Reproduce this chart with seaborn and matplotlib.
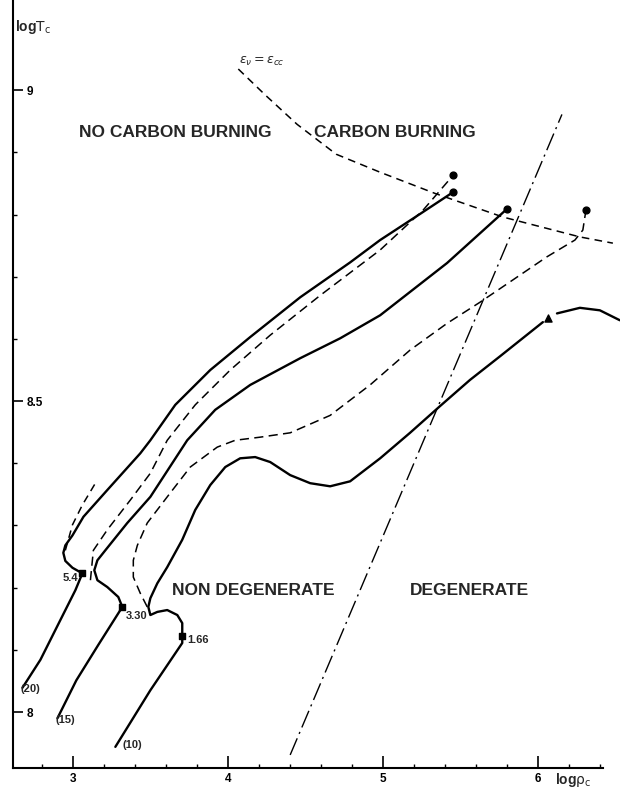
import numpy as np
import pandas as pd
import seaborn as sns
import matplotlib.pyplot as plt

# ---- data (log rho_c, log T_c) ----

# (20) track, solid, through the 5.4 point
trk20_rho = [2.671, 2.787, 2.916, 3.013, 3.058, 2.994, 2.948, 2.935, 2.948, 2.994,
             3.065, 3.219, 3.432, 3.497, 3.658, 3.884, 4.142, 4.465, 4.787, 4.981,
             5.239, 5.452]
trk20_T = [8.039, 8.084, 8.148, 8.196, 8.223, 8.232, 8.243, 8.256, 8.268, 8.284,
           8.314, 8.357, 8.416, 8.437, 8.494, 8.550, 8.603, 8.667, 8.723, 8.759,
           8.801, 8.836]

# short dashed stub left of the (20) loop
stub_rho = [2.948, 2.994, 3.058, 3.142]
stub_T = [8.260, 8.301, 8.333, 8.368]

# dashed track between (20) and (15)
dash1_rho = [3.110, 3.129, 3.219, 3.368, 3.497, 3.606, 3.787, 4.013, 4.271, 4.594,
             4.981, 5.258, 5.452]
dash1_T = [8.212, 8.260, 8.293, 8.341, 8.384, 8.437, 8.494, 8.550, 8.606, 8.670,
           8.743, 8.807, 8.863]

# (15) track, solid, through the 3.30 point
trk15_rho = [2.897, 3.019, 3.161, 3.316, 3.290, 3.219, 3.155, 3.135, 3.155, 3.206,
             3.348, 3.497, 3.735, 3.916, 4.142, 4.465, 4.723, 4.981, 5.413, 5.800]
trk15_T = [7.990, 8.051, 8.108, 8.169, 8.185, 8.201, 8.212, 8.228, 8.244, 8.260,
           8.304, 8.346, 8.437, 8.486, 8.526, 8.569, 8.601, 8.638, 8.722, 8.809]

# dashed track between (15) and (10)
dash2_rho = [3.477, 3.432, 3.387, 3.387, 3.413, 3.477, 3.606, 3.755, 3.929, 4.045,
             4.206, 4.400, 4.658, 4.916, 5.174, 5.413, 5.626, 5.839, 6.058, 6.239,
             6.290, 6.310]
dash2_T = [8.169, 8.191, 8.217, 8.244, 8.268, 8.304, 8.346, 8.394, 8.426, 8.437,
           8.442, 8.449, 8.477, 8.526, 8.582, 8.625, 8.659, 8.695, 8.732, 8.759,
           8.775, 8.807]

# (10) track, solid, through the 1.66 point
trk10_rho = [3.271, 3.497, 3.703, 3.703, 3.703, 3.671, 3.606, 3.542, 3.497, 3.484,
             3.497, 3.542, 3.606, 3.703, 3.787, 3.884, 3.981, 4.077, 4.174, 4.271,
             4.400, 4.529, 4.658, 4.787, 4.981, 5.174, 5.368, 5.561, 5.755, 6.032]
trk10_T = [7.944, 8.035, 8.111, 8.122, 8.143, 8.156, 8.164, 8.161, 8.156, 8.169,
           8.183, 8.207, 8.233, 8.277, 8.325, 8.365, 8.394, 8.408, 8.410, 8.402,
           8.381, 8.368, 8.363, 8.371, 8.408, 8.449, 8.492, 8.534, 8.572, 8.627]
trk10b_rho = [6.123, 6.271, 6.400, 6.529]
trk10b_T = [8.641, 8.650, 8.646, 8.630]

# epsilon_nu = epsilon_cc line
eps_rho = [4.065, 4.240, 4.445, 4.697, 4.981, 5.335, 5.774, 6.271, 6.484]
eps_T = [9.034, 8.992, 8.945, 8.897, 8.868, 8.834, 8.796, 8.764, 8.754]

# degenerate / non degenerate boundary
deg_rho = [4.400, 6.155]
deg_T = [7.931, 8.961]

# marked points
sq_rho = [3.058, 3.316, 3.703]
sq_T = [8.223, 8.169, 8.122]
sq_lab = ["5.4", "3.30", "1.66"]
dot_rho = [5.452, 5.452, 5.800, 6.310]
dot_T = [8.863, 8.836, 8.809, 8.807]
tri_rho = [6.065]
tri_T = [8.633]

mass_lab = ["(20)", "(15)", "(10)"]
mass_rho = [2.658, 2.884, 3.316]
mass_T = [8.037, 7.987, 7.947]

sns.set_style("white")
plt.rcParams['font.family'] = ['Liberation Sans', 'DejaVu Sans']

fig = plt.figure(figsize=(6.2, 7.91), dpi=100)
ax = fig.add_axes([13 / 620, 23 / 791, 607 / 620, 768 / 791])


def draw(rho, T, ls='-', lw=1.7):
    sns.lineplot(x=rho, y=T, sort=False, estimator=None, color='black',
                 linewidth=lw, linestyle=ls, ax=ax)


draw(trk20_rho, trk20_T)
draw(trk15_rho, trk15_T)
draw(trk10_rho, trk10_T)
draw(trk10b_rho, trk10b_T)
draw(stub_rho, stub_T, ls=(0, (5, 3.5)), lw=1.1)
draw(dash1_rho, dash1_T, ls=(0, (6, 3.5)), lw=1.1)
draw(dash2_rho, dash2_T, ls=(0, (6, 3.5)), lw=1.1)
draw(eps_rho, eps_T, ls=(0, (5, 3.5)), lw=1.1)
draw(deg_rho, deg_T, ls=(0, (13, 3.5, 1.5, 3.5)), lw=1.0)

ax.scatter(sq_rho, sq_T, marker='s', s=22, color='black', zorder=5)
ax.scatter(dot_rho, dot_T, marker='o', s=24, color='black', zorder=5)
ax.scatter(tri_rho, tri_T, marker='^', s=26, color='black', zorder=5)

small = dict(fontsize=8, fontweight='bold', va='center')
ax.text(sq_rho[0] - 0.025, sq_T[0] - 0.008, sq_lab[0], ha='right', **small)
ax.text(sq_rho[1] + 0.02, sq_T[1] - 0.015, sq_lab[1], ha='left', **small)
ax.text(sq_rho[2] + 0.032, sq_T[2] - 0.006, sq_lab[2], ha='left', **small)
for lab, r, t in zip(mass_lab, mass_rho, mass_T):
    ax.text(r, t, lab, ha='left', **small)

big = dict(fontsize=12.5, fontweight='bold', va='center')
ax.text(3.039, 8.932, "NO CARBON BURNING", **big)
ax.text(4.555, 8.932, "CARBON BURNING", **big)
ax.text(3.639, 8.196, "NON DEGENERATE", **big)
ax.text(5.174, 8.196, "DEGENERATE", **big)
ax.text(4.07, 9.036, r"$\varepsilon_\nu=\varepsilon_{cc}$", fontsize=9,
        ha='left', va='bottom')

# axes frame
ax.set_xlim(2.61, 6.53)
ax.set_ylim(7.910, 9.145)
for s in ['top', 'right']:
    ax.spines[s].set_visible(False)
for s in ['left', 'bottom']:
    ax.spines[s].set_linewidth(1.5)
    ax.spines[s].set_color('black')
ax.spines['bottom'].set_bounds(2.61, 6.42)

ax.set_xticks([3, 4, 5, 6])
ax.set_xticklabels(['3', '4', '5', '6'])
ax.set_xticks(np.arange(2.8, 6.45, 0.2), minor=True)
ax.set_yticks([8, 8.5, 9])
ax.set_yticklabels(['8', '8.5', '9'])
ax.set_yticks(np.arange(8.1, 9.05, 0.1), minor=True)
ax.tick_params(which='both', bottom=True, left=True, top=False, right=False)
ax.tick_params(which='major', direction='in', width=1.2,
               colors='black', labelsize=8.5)
ax.tick_params(axis='x', which='major', length=9)
ax.tick_params(axis='y', which='major', length=7.5, pad=-10)
ax.tick_params(which='minor', direction='in', length=3, width=1.0, colors='black')
for lab in ax.get_yticklabels():
    lab.set_horizontalalignment('left')
    lab.set_fontweight('bold')
for lab in ax.get_xticklabels():
    lab.set_fontweight('bold')
ax.set_xlabel('')
ax.set_ylabel('')

ax.text(0.004, 0.965, r"log$\mathrm{T_c}$", transform=ax.transAxes,
        fontsize=10, fontweight='bold', ha='left', va='center')
ax.text(0.893, -0.016, r"log$\mathrm{\rho_c}$", transform=ax.transAxes,
        fontsize=10, fontweight='bold', ha='left', va='center')

fig.savefig("out.png", dpi=100, facecolor='white')
